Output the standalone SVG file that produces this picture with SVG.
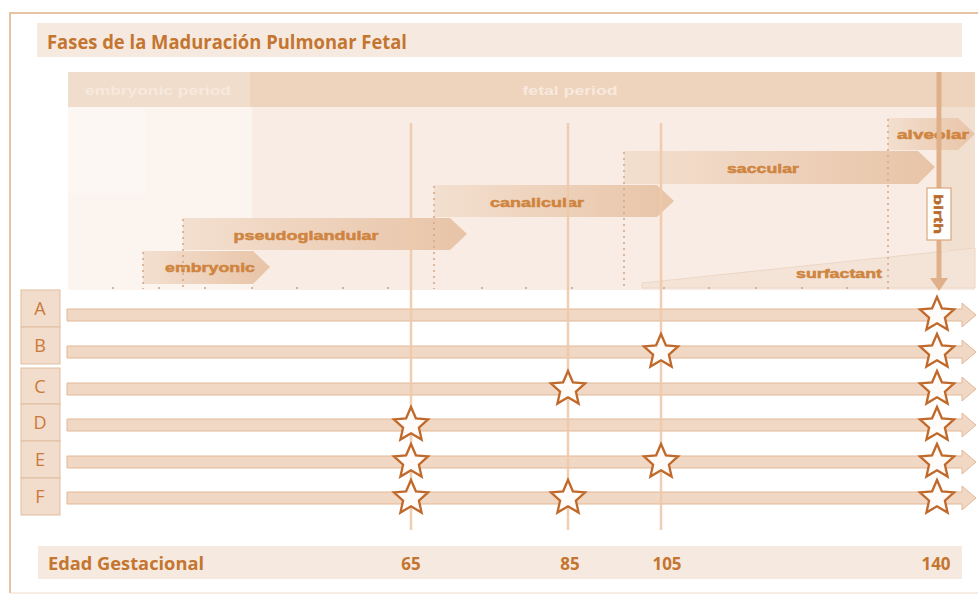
<svg xmlns="http://www.w3.org/2000/svg" width="978" height="594" viewBox="0 0 978 594">
<defs>
<style>
.title{font-family:"Open Sans","Liberation Sans",sans-serif;font-weight:bold;fill:#c4752f}
.phase{font-family:"Liberation Sans",Arial,sans-serif;font-weight:bold;font-size:13px;fill:#cf8540;stroke:#cf8540;stroke-width:0.5}
.period{font-family:"Liberation Sans",Arial,sans-serif;font-weight:bold;font-size:12px;fill:#f7e9dd}
.row{font-family:"Open Sans","Liberation Sans",sans-serif;font-size:18px;fill:#c97a3a;text-anchor:middle}
.num{font-family:"Open Sans","Liberation Sans",sans-serif;font-weight:bold;font-size:17px;fill:#c4752f;text-anchor:middle}
.rowbox{fill:#f2dccb;stroke:#e1bd9f;stroke-width:1}
.bar{fill:#f1d8c4;stroke:#e2b898;stroke-width:1}
.dot{stroke:#d9a98a;stroke-width:1.6;stroke-dasharray:2 4;fill:none}
.vline{stroke:#efc9aa;stroke-width:2.5;opacity:0.9}
.tick{stroke:#c9a58a;stroke-width:1.5}
.star{fill:#fefbf8;stroke:#c0692a;stroke-width:2.3;stroke-linejoin:miter}
</style>
<linearGradient id="pg" x1="0" y1="0" x2="1" y2="0">
<stop offset="0" stop-color="#f3dfcf"/>
<stop offset="1" stop-color="#e8c4a7"/>
</linearGradient>
<path id="star" d="M0,-18 L4.9,-6.7 L17.1,-5.6 L7.9,2.6 L10.6,14.6 L0,8.3 L-10.6,14.6 L-7.9,2.6 L-17.1,-5.6 L-4.9,-6.7 Z"/>
</defs>
<rect width="978" height="594" fill="#ffffff"/>
<!-- frame -->
<path d="M10,593 L10,13 L978,13" fill="none" stroke="#e6c3a3" stroke-width="2"/>
<line x1="10" y1="593" x2="978" y2="593" stroke="#f0dccb" stroke-width="1"/>

<!-- title -->
<g id="title">
<rect x="37" y="23" width="925" height="34" fill="#f6eae0"/>
<text class="title" x="47" y="49" font-size="19" textLength="360" lengthAdjust="spacingAndGlyphs">Fases de la Maduración Pulmonar Fetal</text>
</g>

<!-- background panel -->
<g id="panel">
<rect x="68" y="107" width="907" height="183" fill="#f8ece4"/>
<rect x="68" y="107" width="184" height="183" fill="#fbf4ef"/>
<rect x="68" y="107" width="77" height="86" fill="#fcf7f3"/>
<rect x="942" y="107" width="33" height="143" fill="#f1dfd0"/>
<polygon points="642,283 975,248 975,288 642,288" fill="#f4e4d8" stroke="#ecd6c5" stroke-width="1"/>
</g>

<!-- period bar -->
<g id="periods">
<rect x="68" y="72" width="907" height="35" fill="#eed3bd"/>
<rect x="68" y="72" width="182" height="35" fill="#f1ddcc"/>
<text class="period" x="158" y="95" text-anchor="middle" textLength="146" lengthAdjust="spacingAndGlyphs">embryonic period</text>
<text class="period" x="570" y="95" text-anchor="middle" textLength="95" lengthAdjust="spacingAndGlyphs">fetal period</text>
</g>

<!-- ticks -->
<g id="ticks">
<line class="tick" x1="113" y1="287" x2="113" y2="289"/>
<line class="tick" x1="159" y1="287" x2="159" y2="289"/>
<line class="tick" x1="205" y1="287" x2="205" y2="289"/>
<line class="tick" x1="252" y1="287" x2="252" y2="289"/>
<line class="tick" x1="297" y1="287" x2="297" y2="289"/>
<line class="tick" x1="343" y1="287" x2="343" y2="289"/>
<line class="tick" x1="388" y1="287" x2="388" y2="289"/>
<line class="tick" x1="482" y1="287" x2="482" y2="289"/>
<line class="tick" x1="526" y1="287" x2="526" y2="289"/>
<line class="tick" x1="572" y1="287" x2="572" y2="289"/>
<line class="tick" x1="664" y1="287" x2="664" y2="289"/>
<line class="tick" x1="709" y1="287" x2="709" y2="289"/>
<line class="tick" x1="756" y1="287" x2="756" y2="289"/>
<line class="tick" x1="802" y1="287" x2="802" y2="289"/>
<line class="tick" x1="847" y1="287" x2="847" y2="289"/>
</g>

<!-- phases -->
<g id="phase-embryonic">
<polygon points="143,251 253,251 270,267 253,284 143,284" fill="url(#pg)"/>
<text class="phase" x="210" y="272" text-anchor="middle" textLength="90" lengthAdjust="spacingAndGlyphs">embryonic</text>
</g>
<g id="phase-pseudoglandular">
<polygon points="183,218 450,218 467,234 450,250 183,250" fill="url(#pg)"/>
<text class="phase" x="306" y="240" text-anchor="middle" textLength="145" lengthAdjust="spacingAndGlyphs">pseudoglandular</text>
</g>
<g id="phase-canalicular">
<polygon points="434,185 657,185 674,201 657,217 434,217" fill="url(#pg)"/>
<text class="phase" x="537" y="207" text-anchor="middle" textLength="94" lengthAdjust="spacingAndGlyphs">canalicular</text>
</g>
<g id="phase-saccular">
<polygon points="624,151 918,151 935,167 918,184 624,184" fill="url(#pg)"/>
<text class="phase" x="763" y="173" text-anchor="middle" textLength="72" lengthAdjust="spacingAndGlyphs">saccular</text>
</g>
<g id="phase-alveolar">
<polygon points="888,118 958,118 975,134 958,150 888,150" fill="url(#pg)"/>
<text class="phase" x="933" y="139" text-anchor="middle" textLength="72" lengthAdjust="spacingAndGlyphs">alveolar</text>
</g>
<g id="surfactant">
<text class="phase" x="839" y="278" text-anchor="middle" textLength="86" lengthAdjust="spacingAndGlyphs">surfactant</text>
</g>

<!-- dotted phase boundaries -->
<g id="boundaries">
<line class="dot" x1="143" y1="252" x2="143" y2="289"/>
<line class="dot" x1="183" y1="219" x2="183" y2="289"/>
<line class="dot" x1="434" y1="186" x2="434" y2="289"/>
<line class="dot" x1="624" y1="152" x2="624" y2="289"/>
<line class="dot" x1="888" y1="119" x2="888" y2="289"/>
</g>

<!-- birth -->
<g id="birth">
<line x1="939" y1="72" x2="939" y2="279" stroke="#e0b08a" stroke-width="5"/>
<polygon points="930,278 948,278 939,291" fill="#e0b08a"/>
<rect x="927" y="188" width="24" height="52" fill="#ffffff" stroke="#d9a77c" stroke-width="1.2"/>
<text class="phase" x="0" y="0" transform="translate(934,214) rotate(90)" text-anchor="middle" style="fill:#b86a2a;stroke:#b86a2a" textLength="40" lengthAdjust="spacingAndGlyphs">birth</text>
</g>

<!-- row labels -->
<g id="row-A"><rect class="rowbox" x="21" y="290" width="39" height="37"/><text class="row" x="40" y="315">A</text></g>
<g id="row-B"><rect class="rowbox" x="21" y="327" width="39" height="37"/><text class="row" x="40" y="352">B</text></g>
<g id="row-C"><rect class="rowbox" x="21" y="368" width="39" height="36"/><text class="row" x="40" y="393">C</text></g>
<g id="row-D"><rect class="rowbox" x="21" y="404" width="39" height="37"/><text class="row" x="40" y="429">D</text></g>
<g id="row-E"><rect class="rowbox" x="21" y="441" width="39" height="37"/><text class="row" x="40" y="466">E</text></g>
<g id="row-F"><rect class="rowbox" x="21" y="478" width="39" height="37"/><text class="row" x="40" y="503">F</text></g>

<!-- connectors: row timelines and gestational lines -->
<g id="connectors">
<path class="bar" d="M67,309 L962,309 L962,303 L976,315 L962,327 L962,321 L67,321 Z"/>
<path class="bar" d="M67,346 L962,346 L962,340 L976,352 L962,364 L962,358 L67,358 Z"/>
<path class="bar" d="M67,383 L962,383 L962,377 L976,389 L962,401 L962,395 L67,395 Z"/>
<path class="bar" d="M67,419 L962,419 L962,413 L976,425 L962,437 L962,431 L67,431 Z"/>
<path class="bar" d="M67,456 L962,456 L962,450 L976,462 L962,474 L962,468 L67,468 Z"/>
<path class="bar" d="M67,492 L962,492 L962,486 L976,498 L962,510 L962,504 L67,504 Z"/>
<line class="vline" x1="411" y1="123" x2="411" y2="530"/>
<line class="vline" x1="568" y1="123" x2="568" y2="530"/>
<line class="vline" x1="661" y1="123" x2="661" y2="530"/>
</g>

<!-- stars -->
<g id="stars">
<use href="#star" class="star" x="937" y="315"/>
<use href="#star" class="star" x="661" y="352"/>
<use href="#star" class="star" x="937" y="352"/>
<use href="#star" class="star" x="568" y="389"/>
<use href="#star" class="star" x="937" y="389"/>
<use href="#star" class="star" x="411" y="425"/>
<use href="#star" class="star" x="937" y="425"/>
<use href="#star" class="star" x="411" y="462"/>
<use href="#star" class="star" x="661" y="462"/>
<use href="#star" class="star" x="937" y="462"/>
<use href="#star" class="star" x="411" y="498"/>
<use href="#star" class="star" x="568" y="498"/>
<use href="#star" class="star" x="937" y="498"/>
</g>

<!-- axis -->
<g id="axis">
<rect x="38" y="546" width="924" height="33" fill="#f6eae0"/>
<text class="title" x="48" y="570" font-size="17" textLength="156" lengthAdjust="spacingAndGlyphs">Edad Gestacional</text>
<text class="num" x="411" y="570">65</text>
<text class="num" x="570" y="570">85</text>
<text class="num" x="667" y="570">105</text>
<text class="num" x="936" y="570">140</text>
</g>
</svg>
